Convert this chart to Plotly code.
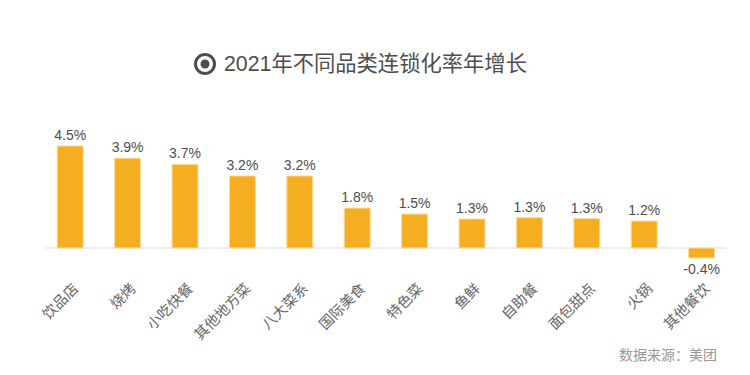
import plotly.graph_objects as go

categories = ["饮品店", "烧烤", "小吃快餐", "其他地方菜", "八大菜系", "国际美食", "特色菜", "鱼鲜", "自助餐", "面包甜点", "火锅", "其他餐饮"]
values = [4.5, 3.96, 3.69, 3.18, 3.18, 1.76, 1.5, 1.28, 1.34, 1.3, 1.19, -0.44]
labels = ["4.5%", "3.9%", "3.7%", "3.2%", "3.2%", "1.8%", "1.5%", "1.3%", "1.3%", "1.3%", "1.2%", "-0.4%"]
title = "2021年不同品类连锁化率年增长"
source = "数据来源：美团"

FONT = "Liberation Sans, Noto Sans CJK SC, sans-serif"
W, H = 750, 375
L, R, T, B = 45, 24, 100, 75
STEP = 57.4
x0_px = 70.2

fig = go.Figure(go.Bar(
    x=list(range(len(categories))), y=values, text=labels, textposition="outside",
    textfont=dict(family=FONT, size=14, color="#4d4d4d"), cliponaxis=False, constraintext="none",
    marker=dict(color="#F6AE21", line=dict(color="#FBDDA0", width=1)),
    width=26 / STEP,
))
y_per_px = 1 / 22.67
fig.update_layout(
    width=W, height=H, autosize=False, showlegend=False,
    paper_bgcolor="white", plot_bgcolor="white",
    margin=dict(l=L, r=R, t=T, b=B, pad=0),
    font=dict(family=FONT),
    xaxis=dict(
        range=[(L - x0_px) / STEP, (W - R - x0_px) / STEP], tickmode="array",
        tickvals=list(range(len(categories))),
        ticktext=categories, tickangle=-45, showgrid=False, zeroline=False, showline=False,
        ticks="", tickfont=dict(family=FONT, size=14.5, color="#666666"),
        automargin=False, anchor="free", position=0.12, ticklabelshift=4,
    ),
    yaxis=dict(
        range=[-(H - B - 248) * y_per_px, (248 - T) * y_per_px], visible=False,
    ),
    shapes=[
        dict(type="line", xref="paper", yref="y", x0=0, x1=1, y0=0, y1=0,
             line=dict(color="#eeeeee", width=2), layer="below"),
        dict(type="circle", xref="paper", yref="paper",
             x0=(195.5 - L) / (W - L - R), x1=(214.5 - L) / (W - L - R),
             y0=(H - B - 73.5) / (H - T - B), y1=(H - B - 54.5) / (H - T - B),
             line=dict(color="#4d4d4d", width=3), fillcolor="white"),
        dict(type="circle", xref="paper", yref="paper",
             x0=(200.5 - L) / (W - L - R), x1=(209.5 - L) / (W - L - R),
             y0=(H - B - 68.5) / (H - T - B), y1=(H - B - 59.5) / (H - T - B),
             line=dict(width=0), fillcolor="#4d4d4d"),
    ],
    annotations=[
        dict(text=title, xref="paper", yref="paper", showarrow=False,
             x=(222 - L) / (W - L - R), y=(H - B - 64) / (H - T - B), xanchor="left", yanchor="middle",
             font=dict(family=FONT, size=21.3, color="#4d4d4d")),
        dict(text=source, xref="paper", yref="paper", showarrow=False,
             x=(719 - L) / (W - L - R), y=(H - B - 355) / (H - T - B), xanchor="right", yanchor="middle",
             font=dict(family=FONT, size=14, color="#999999")),
    ],
)
fig.write_html("out.html", post_script="document.body.style.margin='0';", config={"displayModeBar": False})
